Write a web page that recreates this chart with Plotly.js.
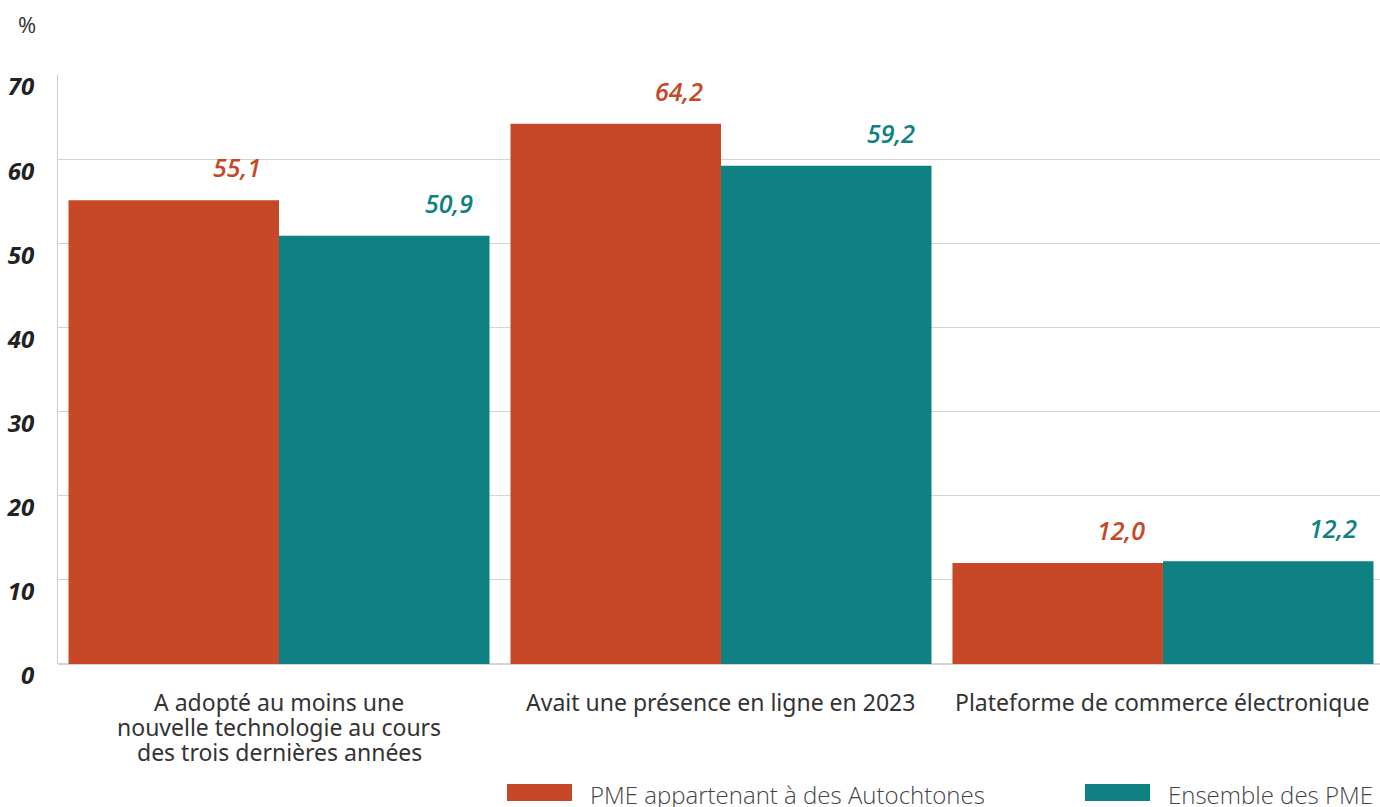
<!DOCTYPE html>
<html>
<head>
<meta charset="utf-8">
<script src="https://cdn.plot.ly/plotly-3.0.1.min.js"></script>
<style>
html,body{margin:0;padding:0;background:#fff;overflow:hidden;}
#chart{width:1380px;height:807px;}
</style>
</head>
<body>
<div id="chart"></div>
<script>
const categories = [
  "A adopté au moins une<br>nouvelle technologie au cours<br>des trois dernières années",
  "Avait une présence en ligne en 2023",
  "Plateforme de commerce électronique"
];
const seriesNames = ["PME appartenant à des Autochtones", "Ensemble des PME"];
const autochtones = [55.1, 64.2, 12.0];
const ensemble = [50.9, 59.2, 12.2];
const yTicks = [0, 10, 20, 30, 40, 50, 60, 70];

const colors = ["#C64826", "#0F8183"];
const fmt = v => v.toFixed(1).replace(".", ",");

// pixel helpers for paper coords (plot area: x 58..1380, y 75..664)
const px = x => (x - 58) / 1322;
const py = y => (664 - y) / 589;

const traces = [
  {type: "bar", name: seriesNames[0], x: categories, y: autochtones,
   marker: {color: colors[0]}, hoverinfo: "skip"},
  {type: "bar", name: seriesNames[1], x: categories, y: ensemble,
   marker: {color: colors[1]}, hoverinfo: "skip"}
];

const annotations = [];
const shifts = [-16, 196];
[autochtones, ensemble].forEach((arr, s) => {
  arr.forEach((v, i) => {
    annotations.push({
      x: categories[i], y: v, xref: "x", yref: "y",
      text: fmt(v), showarrow: false,
      xanchor: "right", yanchor: "bottom",
      xshift: shifts[s], yshift: 14,
      font: {family: "Open Sans", size: 25, color: colors[s], weight: 600, style: "italic"}
    });
  });
});

// category labels (one annotation per line for tight line spacing)
categories.forEach(c => {
  c.split("<br>").forEach((line, k) => {
    annotations.push({
      x: c, xref: "x", y: py(702 + k * 25), yref: "paper",
      text: line, showarrow: false, xanchor: "center", yanchor: "middle",
      font: {family: "Noto Sans", size: 23, color: "#333"}
    });
  });
});

annotations.push({
  x: px(27), y: py(24), xref: "paper", yref: "paper",
  text: "%", showarrow: false, xanchor: "center", yanchor: "middle",
  font: {family: "Open Sans", size: 22, color: "#333"}
});

// custom legend
const legendItems = [
  {x0: 507, x1: 572, tx: 588},
  {x0: 1085, x1: 1150, tx: 1166}
];
const shapes = [];
legendItems.forEach((it, s) => {
  shapes.push({
    type: "rect", xref: "paper", yref: "paper",
    x0: px(it.x0), x1: px(it.x1), y0: py(784), y1: py(801),
    fillcolor: colors[s], line: {width: 0}
  });
  annotations.push({
    x: px(it.tx), y: py(794), xref: "paper", yref: "paper",
    text: seriesNames[s], showarrow: false, xanchor: "left", yanchor: "middle",
    font: {family: "Open Sans", size: 24, color: "#444", weight: 300}
  });
});

const layout = {
  width: 1380, height: 807,
  margin: {l: 58, r: 0, t: 75, b: 143, pad: 0},
  paper_bgcolor: "#fff", plot_bgcolor: "#fff",
  showlegend: false,
  barmode: "group", bargap: 0.0475, bargroupgap: 0,
  font: {family: "Open Sans", color: "#333"},
  xaxis: {
    type: "category",
    range: [-0.5, 2.491],
    showticklabels: false,
    ticks: "", showgrid: false, zeroline: false, showline: false,
    automargin: false
  },
  yaxis: {
    range: [0, 70], tickvals: yTicks, ticktext: yTicks.map(String),
    tickfont: {family: "Open Sans", size: 24, color: "#222", weight: 700, style: "italic"},
    showgrid: true, gridcolor: "#d4d4d4", gridwidth: 1,
    zeroline: true, zerolinecolor: "#d4d4d4", zerolinewidth: 2,
    showline: true, linecolor: "#cccccc", linewidth: 1,
    ticks: "", ticklabelshift: 12, ticklabelstandoff: 18,
    automargin: false, fixedrange: true
  },
  annotations: annotations,
  shapes: shapes
};

Plotly.newPlot("chart", traces, layout, {displayModeBar: false, staticPlot: true});
</script>
</body>
</html>
